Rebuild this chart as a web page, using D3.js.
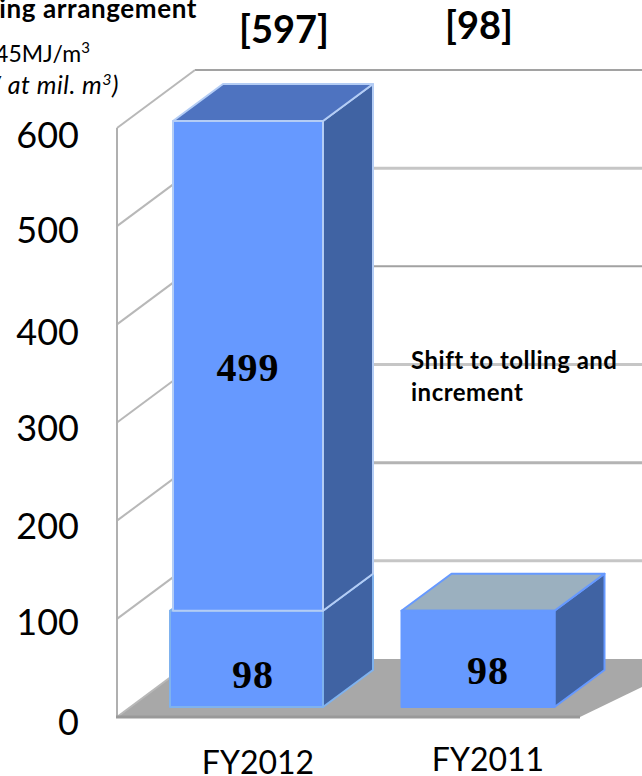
<!DOCTYPE html>
<html>
<head>
<meta charset="utf-8">
<script src="https://cdn.jsdelivr.net/npm/d3@7"></script>
<style>
html,body{margin:0;padding:0;background:#fff;overflow:hidden}
svg{display:block}
text{font-family:Lato,"Open Sans",sans-serif;fill:#000}
</style>
</head>
<body>
<div id="chart"></div>
<script>
// Volumes in mil. m3, stacked from the base volume upwards
const categories = ["FY2012", "FY2011"];
const baseVolume = [98, 98];
const tollingVolume = [499, 0];
const totals = [597, 98];
const axisTicks = [0, 100, 200, 300, 400, 500, 600];

const W = 642, H = 776;
const svg = d3.select("#chart").append("svg").attr("width", W).attr("height", H);

const y = d3.scaleLinear().domain([0, 600]).range([717, 128]);
const x = d3.scalePoint().domain(categories).range([246.5, 478]);
const barWidth = 153;

// Depth of the box: wall offset and bar offset
const wall = {dx: 78, dy: -58};
const bar = {dx: 50, dy: -37, lift: 10};
const wallRight = 700, floorRight = 580, axisX = 117;

const poly = pts => pts.map(p => p.join(",")).join(" ");

// Floor
svg.append("polygon")
  .attr("points", poly([[axisX, y(0)], [axisX + wall.dx, y(0) + wall.dy], [wallRight, y(0) + wall.dy], [floorRight, y(0)]]))
  .attr("fill", "#a8a8a8");

// Back wall gridlines
svg.selectAll("line.back").data(axisTicks.slice(1)).join("line")
  .attr("class", "back")
  .attr("x1", axisX + wall.dx).attr("x2", wallRight)
  .attr("y1", d => y(d) + wall.dy).attr("y2", d => y(d) + wall.dy)
  .attr("stroke", d => (d === 600 || d === 400 ? "#a2a2a2" : d === 200 ? "#b4b4b4" : "#c6c6c6"))
  .attr("stroke-width", d => (d === 600 || d === 400 ? 2 : 3));

// Side wall gridlines
svg.selectAll("line.side").data(axisTicks).join("line")
  .attr("class", "side")
  .attr("x1", axisX).attr("x2", axisX + wall.dx)
  .attr("y1", d => y(d)).attr("y2", d => y(d) + wall.dy)
  .attr("stroke", "#b8b8b8").attr("stroke-width", 2);

// Value axis line and front edge of the floor
svg.append("line").attr("x1", axisX).attr("x2", axisX).attr("y1", y(600)).attr("y2", y(0))
  .attr("stroke", "#b0b0b0").attr("stroke-width", 2);
svg.append("line").attr("x1", axisX - 1).attr("x2", floorRight).attr("y1", y(0)).attr("y2", y(0))
  .attr("stroke", "#999").attr("stroke-width", 3);

// One 3D segment of a bar
function box(cx, v0, v1, colors) {
  const g = svg.append("g").attr("stroke", colors.stroke).attr("stroke-width", 2).attr("stroke-linejoin", "round");
  const l = cx - barWidth / 2 + (colors.inset || 0), r = cx + barWidth / 2;
  const b = y(v0) - bar.lift, t = y(v1) - bar.lift;
  g.append("polygon").attr("fill", colors.side)
    .attr("points", poly([[r, b], [r + bar.dx, b + bar.dy], [r + bar.dx, t + bar.dy], [r, t]]));
  g.append("polygon").attr("fill", colors.top)
    .attr("points", poly([[l, t], [l + bar.dx, t + bar.dy], [r + bar.dx, t + bar.dy], [r, t]]));
  g.append("rect").attr("fill", colors.front)
    .attr("x", l).attr("y", t).attr("width", r - l).attr("height", b - t);
}

categories.forEach((c, i) => {
  const cx = x(c);
  box(cx, 0, baseVolume[i], {
    front: "#6699ff", side: "#4063a3", top: tollingVolume[i] ? "#4063a3" : "#9bb0bf",
    stroke: tollingVolume[i] ? "#7fb2ee" : "#6699ff"
  });
  if (tollingVolume[i]) {
    box(cx, baseVolume[i], baseVolume[i] + tollingVolume[i], {
      front: "#6699ff", side: "#4063a3", top: "#4e73c0", stroke: "#b4cdf5", inset: 3
    });
  }
});

// Axis tick labels
const tickBaseline = {0: 735, 100: 635, 200: 539, 300: 441, 400: 345, 500: 243, 600: 148};
svg.selectAll("text.tick").data(axisTicks).join("text")
  .attr("class", "tick")
  .attr("x", 79).attr("text-anchor", "end")
  .attr("y", d => tickBaseline[d])
  .attr("font-size", 36)
  .text(d => d);

// Category labels
const catPos = [[258, 774], [488, 771]];
svg.selectAll("text.cat").data(categories).join("text")
  .attr("class", "cat")
  .attr("x", (d, i) => catPos[i][0]).attr("y", (d, i) => catPos[i][1])
  .attr("text-anchor", "middle").attr("font-size", 32)
  .text(d => d);

// Totals above the bars
const totalPos = [[284, 43], [479, 39]];
svg.selectAll("text.total").data(totals).join("text")
  .attr("class", "total")
  .attr("x", (d, i) => totalPos[i][0]).attr("y", (d, i) => totalPos[i][1])
  .attr("text-anchor", "middle").attr("font-size", 38).attr("font-weight", 700)
  .text(d => `[${d}]`);

// Values inside the bars
const inBar = [
  {v: tollingVolume[0], px: 248, py: 381},
  {v: baseVolume[0], px: 253, py: 688},
  {v: baseVolume[1], px: 488, py: 684}
];
svg.selectAll("text.val").data(inBar).join("text")
  .attr("class", "val")
  .attr("x", d => d.px).attr("y", d => d.py)
  .attr("text-anchor", "middle").attr("font-size", 40).attr("font-weight", 700)
  .attr("letter-spacing", 1)
  .style("font-family", '"Liberation Serif",serif')
  .text(d => d.v);

// Annotation beside the tall bar
const note = svg.append("text").attr("font-size", 24).attr("font-weight", 700).attr("letter-spacing", 0.5);
note.append("tspan").attr("x", 411).attr("y", 369).text("Shift to tolling and");
note.append("tspan").attr("x", 411).attr("y", 401).text("increment");

// Unit notes, running off the left edge
svg.append("text").attr("x", 197).attr("y", 18).attr("text-anchor", "end")
  .attr("font-size", 26).attr("font-weight", 700).attr("letter-spacing", 0.6).text("ing arrangement");
const unit = svg.append("text").attr("x", 90).attr("y", 62).attr("text-anchor", "end").attr("font-size", 23);
unit.append("tspan").text("45MJ/m");
unit.append("tspan").attr("font-size", 15).attr("dy", -9).text("3");
const basis = svg.append("text").attr("x", 119).attr("y", 94).attr("text-anchor", "end")
  .attr("font-size", 25).attr("font-style", "italic").attr("letter-spacing", 0.5);
basis.append("tspan").text("/ at mil. m");
basis.append("tspan").attr("font-size", 16).attr("dy", -9).text("3");
basis.append("tspan").attr("dy", 9).text(")");
</script>
</body>
</html>
